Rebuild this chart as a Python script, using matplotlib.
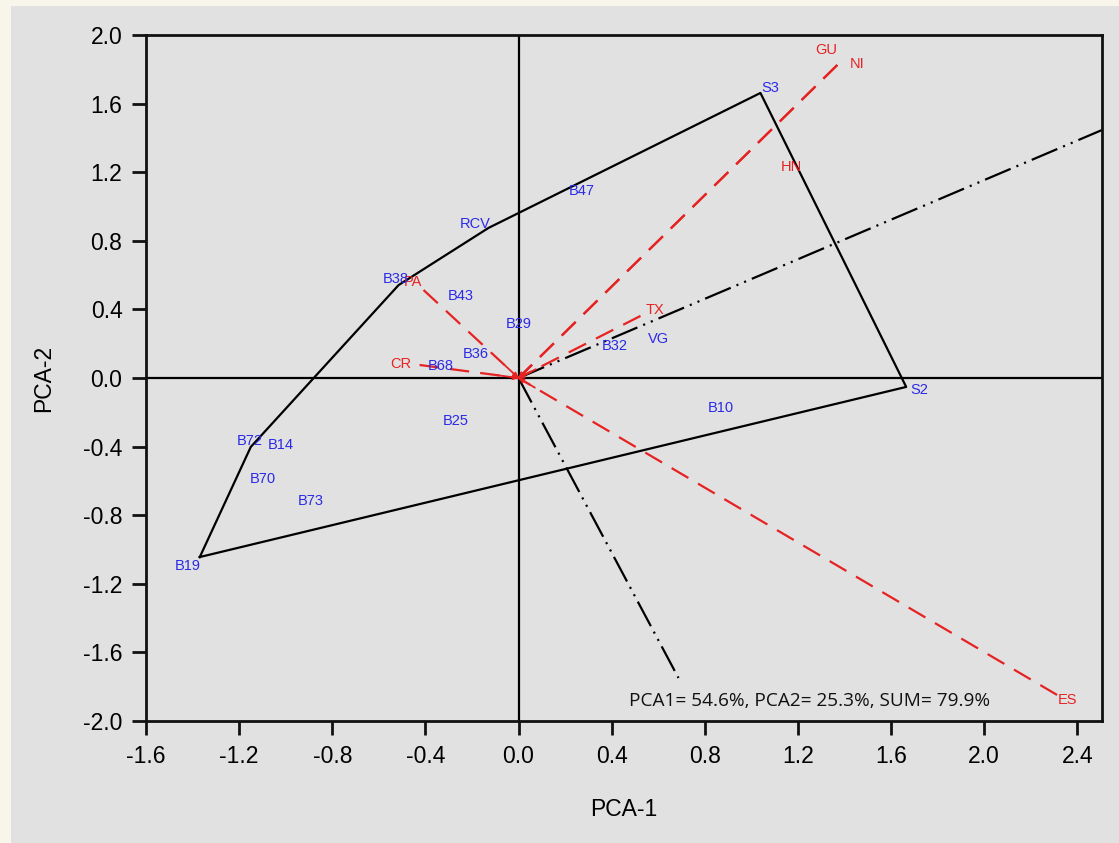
import matplotlib
matplotlib.use('Agg')
import matplotlib.pyplot as plt
from matplotlib.patches import Rectangle
import numpy as np

plt.rcParams['font.family'] = ['Liberation Sans', 'DejaVu Sans']
plt.rcParams['lines.scale_dashes'] = False

# genotype scores (PCA-1, PCA-2)
hull_names = ['B19', 'B72', 'B38', 'RCV', 'S3', 'S2']
hull_x = [-1.369, -1.150, -0.515, -0.129, 1.039, 1.665]
hull_y = [-1.044, -0.402, 0.542, 0.875, 1.662, -0.052]

geno_names = ['B47', 'B43', 'B29', 'B36', 'B68', 'B32', 'VG', 'B10', 'B25', 'B14', 'B70', 'B73']
geno_x = [0.27, -0.249, 0.0, -0.185, -0.335, 0.412, 0.601, 0.867, -0.27, -1.021, -1.099, -0.893]
geno_y = [1.09, 0.478, 0.315, 0.14, 0.07, 0.187, 0.227, -0.175, -0.25, -0.39, -0.589, -0.717]

# environment / trait vectors
env_names = ['GU', 'NI', 'TX', 'ES', 'PA', 'CR']
env_x = [1.369, 1.369, 0.524, 2.313, -0.408, -0.425]
env_y = [1.825, 1.825, 0.362, -1.848, 0.513, 0.076]

# label without a drawn vector
extra_env = 'HN'
extra_env_xy = (1.172, 1.230)

# average environment axis and its perpendicular
aea_end = (2.506, 1.446)
perp_end = (0.687, -1.749)

summary = 'PCA1= 54.6%, PCA2= 25.3%, SUM= 79.9%'

# label offsets in pixels (layout only)
hull_offsets = {'B19': (-12, -9), 'B72': (-1, 6), 'B38': (-3, 6),
                'RCV': (-13, 4), 'S3': (10, 5), 'S2': (13, -3)}
env_offsets = {'GU': (-11, 15), 'NI': (20, 1), 'TX': (14, 6),
               'ES': (10, -5), 'PA': (-11, 8), 'CR': (-19, 1)}

BLUE = '#2a2ae6'
RED = '#e62222'

fig = plt.figure(figsize=(11.19, 8.43), dpi=100)
fig.patch.set_facecolor('#f8f6ea')
fig.patches.append(Rectangle((11 / 1119, 0), 1, 1 - 6 / 843, transform=fig.transFigure,
                             facecolor='#e1e1e1', edgecolor='none', zorder=-10))
ax = fig.add_axes([146 / 1119, 1 - 721 / 843, (1102 - 146) / 1119, (721 - 35) / 843])
ax.set_facecolor('#e1e1e1')

ax.set_xlim(-1.6, 2.506)
ax.set_ylim(-2.0, 2.0)
ax.set_xticks([-1.6, -1.2, -0.8, -0.4, 0.0, 0.4, 0.8, 1.2, 1.6, 2.0, 2.4])
ax.set_yticks([-2.0, -1.6, -1.2, -0.8, -0.4, 0.0, 0.4, 0.8, 1.2, 1.6, 2.0])
ax.xaxis.set_major_formatter(plt.FormatStrFormatter('%.1f'))
ax.yaxis.set_major_formatter(plt.FormatStrFormatter('%.1f'))
ax.tick_params(direction='out', length=10, width=2, labelsize=16.5, pad=7, color='#111111')
for s in ax.spines.values():
    s.set_linewidth(2)
    s.set_color('#111111')

ax.axhline(0, color='black', lw=1.6, zorder=1)
ax.axvline(0, color='black', lw=1.6, zorder=1)

# polygon
px = hull_x + hull_x[:1]
py = hull_y + hull_y[:1]
ax.plot(px, py, color='black', lw=1.6, zorder=2)

ddot = (0, (20, 4.5, 1.5, 4.5, 1.5, 4.5))
ax.plot([0, aea_end[0]], [0, aea_end[1]], color='black', lw=1.6, linestyle=ddot, zorder=2)
ax.plot([0, perp_end[0]], [0, perp_end[1]], color='black', lw=1.6, linestyle=ddot, zorder=2)

# vectors
for name, x, y in zip(env_names, env_x, env_y):
    ax.plot([x, 0], [y, 0], color=RED, lw=1.6, linestyle=(0, (14, 8)), zorder=3)
    r = np.hypot(x, y)
    ax.annotate('', xy=(0, 0), xytext=(x / r * 0.09, y / r * 0.09),
                arrowprops=dict(arrowstyle='->', color=RED, lw=1.3, mutation_scale=7,
                                shrinkA=0, shrinkB=0), zorder=3)
    dx, dy = env_offsets[name]
    ax.annotate(name, (x, y), xytext=(dx, dy), textcoords='offset pixels',
                ha='center', va='center', color=RED, fontsize=10.5, zorder=5)
ax.text(extra_env_xy[0], extra_env_xy[1], extra_env, color=RED, fontsize=10.5,
        ha='center', va='center', zorder=5)

for name, x, y in zip(hull_names, hull_x, hull_y):
    dx, dy = hull_offsets[name]
    ax.annotate(name, (x, y), xytext=(dx, dy), textcoords='offset pixels',
                ha='center', va='center', color=BLUE, fontsize=10.5, zorder=5)
for name, x, y in zip(geno_names, geno_x, geno_y):
    ax.text(x, y, name, color=BLUE, fontsize=10.5, ha='center', va='center', zorder=5)

ax.text(0.476, -1.883, summary, family=['Open Sans', 'DejaVu Sans'], fontsize=13.7,
        ha='left', va='center', color='#111111', zorder=5)

ax.set_xlabel('PCA-1', fontsize=16.5, labelpad=22)
ax.set_ylabel('PCA-2', fontsize=16.5, labelpad=20)

fig.savefig('out.png', dpi=100, facecolor=fig.get_facecolor())
